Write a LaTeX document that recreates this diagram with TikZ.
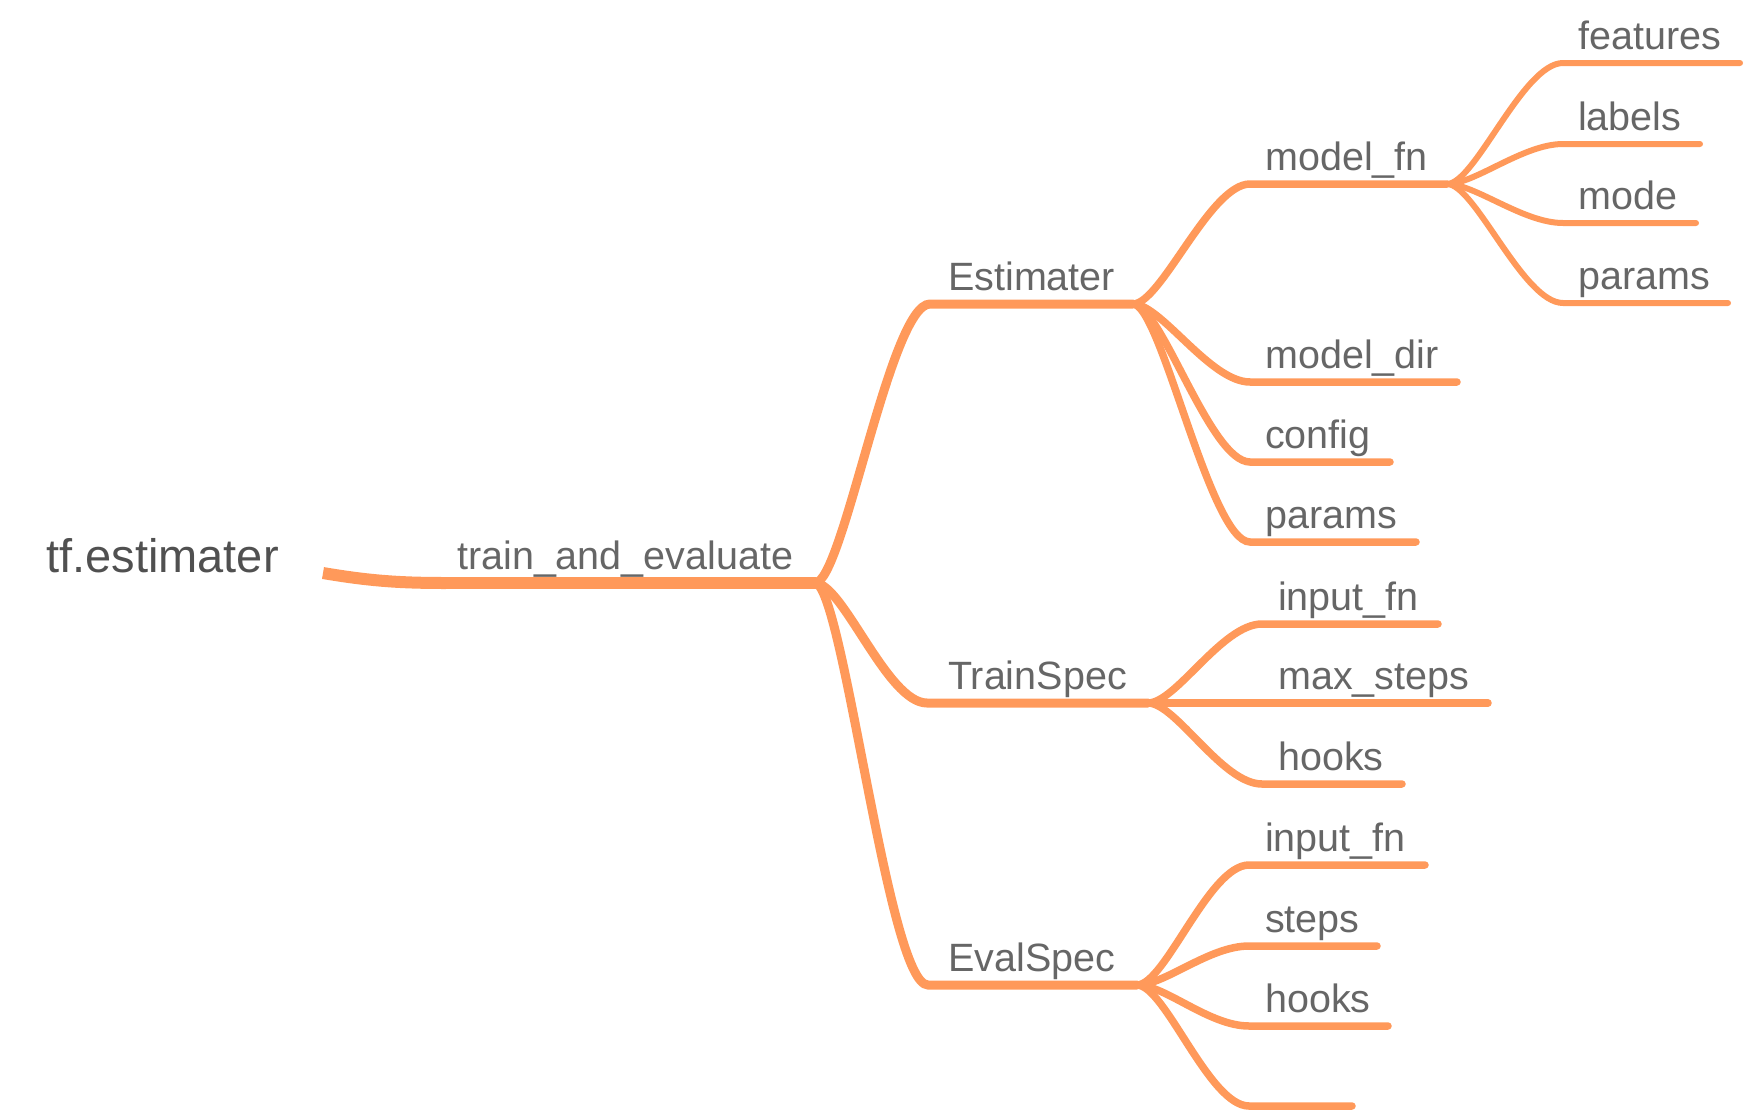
\documentclass[tikz,border=0pt]{standalone}
\usepackage{fontspec}
\setmainfont{Liberation Sans}
\definecolor{branch}{RGB}{255,153,90}
\definecolor{txt}{RGB}{102,102,102}
\definecolor{roottxt}{RGB}{80,80,80}
\tikzset{
  x=1pt,y=-1pt,
  lab/.style={anchor=base west, inner sep=0pt, text=txt, font=\fontsize{39.5}{42}\selectfont},
  rootlab/.style={anchor=base west, inner sep=0pt, text=roottxt, font=\fontsize{47}{50}\selectfont},
  bone/.style={draw=branch, line width=12pt, line cap=round},
  btwo/.style={draw=branch, line width=9pt, line cap=round},
  bthree/.style={draw=branch, line width=7.5pt, line cap=round},
  bfour/.style={draw=branch, line width=6pt, line cap=round},
  curv/.style={to path={.. controls +(28,0) and +(-40,0) .. (\tikztotarget)}}
}
\begin{document}
\begin{tikzpicture}
\useasboundingbox (0,0) rectangle (1746,1114);
% root
\node[rootlab] (root) at (46,572) {tf.estimater};
\coordinate (rs) at (323,573);
\coordinate (ts) at (446,583);
\coordinate (j1) at (815,583);
\node[lab] (tae) at (457,569) {train\_and\_evaluate};
\draw[bone, line cap=butt] (rs) .. controls (370,581) and (400,583) .. (ts);
\draw[bone] (ts) -- (j1);
% level 2
\coordinate (es) at (930,304); \coordinate (j2) at (1133,304);
\node[lab] (est) at (948,290) {Estimater};
\coordinate (trs) at (927,703); \coordinate (j3) at (1148,703);
\node[lab] (trn) at (948,689) {TrainSpec};
\coordinate (evs) at (928,985); \coordinate (j4) at (1137,985);
\node[lab] (evl) at (948,971) {EvalSpec};
\draw[btwo] (j1) to[curv] (es) -- (j2);
\draw[btwo] (j1) to[curv] (trs) -- (j3);
\draw[btwo] (j1) to[curv] (evs) -- (j4);
% level 3 : Estimater
\coordinate (mfs) at (1250,184); \coordinate (j5) at (1447,184);
\node[lab] (mfn) at (1265,170) {model\_fn};
\coordinate (mds) at (1250,382); \coordinate (mde) at (1457,382);
\node[lab] (mdir) at (1265,368) {model\_dir};
\coordinate (cfs) at (1250,462); \coordinate (cfe) at (1390,462);
\node[lab] (cfg) at (1265,448) {config};
\coordinate (pas) at (1250,542); \coordinate (pae) at (1416,542);
\node[lab] (par) at (1265,528) {params};
\draw[bthree] (j2) to[curv] (mfs) -- (j5);
\draw[bthree] (j2) to[curv] (mds) -- (mde);
\draw[bthree] (j2) to[curv] (cfs) -- (cfe);
\draw[bthree] (j2) to[curv] (pas) -- (pae);
% level 3 : TrainSpec
\coordinate (tis) at (1262,624); \coordinate (tie) at (1438,624);
\node[lab] (tin) at (1278,610) {input\_fn};
\coordinate (tme) at (1488,703);
\node[lab] (tmx) at (1278,689) {max\_steps};
\coordinate (ths) at (1262,784); \coordinate (the) at (1402,784);
\node[lab] (thk) at (1278,770) {hooks};
\draw[bthree] (j3) to[curv] (tis) -- (tie);
\draw[bthree] (j3) -- (tme);
\draw[bthree] (j3) to[curv] (ths) -- (the);
% level 3 : EvalSpec
\coordinate (eis) at (1249,865); \coordinate (eie) at (1425,865);
\node[lab] (ein) at (1265,851) {input\_fn};
\coordinate (ess) at (1249,946); \coordinate (ese) at (1377,946);
\node[lab] (est2) at (1265,932) {steps};
\coordinate (ehs) at (1249,1026); \coordinate (ehe) at (1388,1026);
\node[lab] (ehk) at (1265,1012) {hooks};
\coordinate (exs) at (1249,1106); \coordinate (exe) at (1352,1106);
\draw[bthree] (j4) to[curv] (eis) -- (eie);
\draw[bthree] (j4) to[curv] (ess) -- (ese);
\draw[bthree] (j4) to[curv] (ehs) -- (ehe);
\draw[bthree] (j4) to[curv] (exs) -- (exe);
% level 4 : model_fn
\coordinate (fs) at (1563,63); \coordinate (fe) at (1740,63);
\node[lab] (fea) at (1578,49) {features};
\coordinate (ls) at (1563,144); \coordinate (le) at (1700,144);
\node[lab] (lab) at (1578,130) {labels};
\coordinate (ms) at (1563,223); \coordinate (me) at (1696,223);
\node[lab] (mod) at (1578,209) {mode};
\coordinate (ps) at (1563,303); \coordinate (pe) at (1728,303);
\node[lab] (prm) at (1578,289) {params};
\draw[bfour] (j5) to[curv] (fs) -- (fe);
\draw[bfour] (j5) to[curv] (ls) -- (le);
\draw[bfour] (j5) to[curv] (ms) -- (me);
\draw[bfour] (j5) to[curv] (ps) -- (pe);
\end{tikzpicture}
\end{document}
